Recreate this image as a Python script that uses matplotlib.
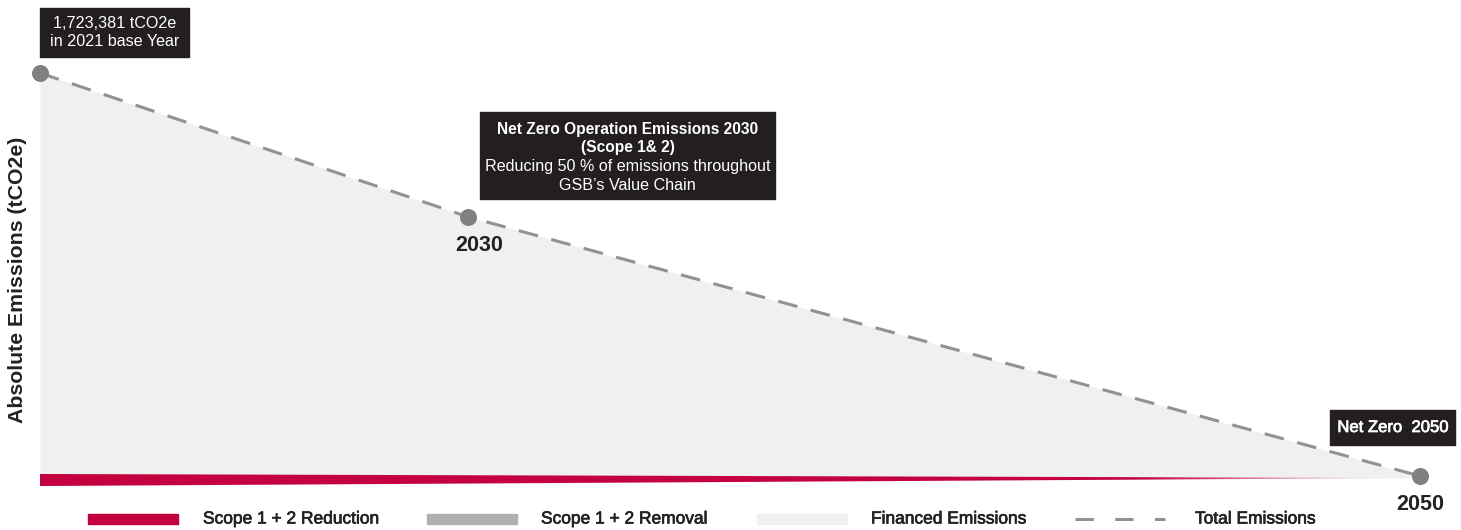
import numpy as np
import matplotlib
matplotlib.use("Agg")
import matplotlib.pyplot as plt
from matplotlib.patches import Rectangle
from matplotlib.lines import Line2D
import matplotlib.patheffects as pe

plt.rcParams['font.family'] = ['Liberation Sans', 'DejaVu Sans']

# Emissions pathway (tCO2e)
years = [2021, 2030, 2050]
total_emissions = [1_723_381, 1_108_000, 0]

# Scope 1 + 2 reduction band edges (tCO2e), tapering to the 2050 point
band_years = [2021, 2050]
reduction_top = [8_600, -8_600]
reduction_bottom = [-42_800, -8_600]

legend_labels = ["Scope 1 + 2 Reduction", "Scope 1 + 2 Removal",
                 "Financed Emissions", "Total Emissions"]

RED = "#C4003F"
REMOVAL = "#B0B0B0"
FINANCED = "#F0F0F0"
LINE = "#929292"
DOT = "#808080"
BOX = "#231F20"
INK = "#222222"

W, H = 1461, 530
fig = plt.figure(figsize=(W / 100, H / 100), dpi=100)
ax = fig.add_axes([0, 0, 1, 1])
ax.set_axis_off()

# Scales: 2021 -> 40 px, 2050 -> 1420 px; 0 t -> 476 px from top, base -> 73 px
px_per_year = (1420 - 40) / 29
xlim = (2021 - 40 / px_per_year, 2050 + (W - 1420) / px_per_year)
t_per_px = total_emissions[0] / (476 - 73)
ylim = (-(H - 476) * t_per_px, 476 * t_per_px)

# Financed emissions area sits on top of the reduction band
band_top_at_years = np.interp(years, band_years, reduction_top)
ax.fill_between(years, band_top_at_years, total_emissions,
                color=FINANCED, lw=0, zorder=1)

# Scope 1 + 2 reduction wedge with a fade towards 2050
poly = ax.fill_between(band_years, reduction_bottom, reduction_top,
                       color="none", lw=0, zorder=2)
xs = np.linspace(2021, 2050, 600)
alpha = np.clip((2049.6 - xs) / 5.5, 0, 1)
rgba = np.zeros((2, xs.size, 4))
rgba[..., :3] = matplotlib.colors.to_rgb(RED)
rgba[..., 3] = alpha
img = ax.imshow(rgba, extent=(2021, 2050, min(reduction_bottom), max(reduction_top)),
                aspect="auto", interpolation="bilinear", zorder=2)
img.set_clip_path(poly.get_paths()[0], transform=ax.transData)
ax.set_xlim(*xlim)
ax.set_ylim(*ylim)

# Total emissions path
ax.plot(years, total_emissions, color=LINE, lw=2.2, dashes=(6.5, 4.5), zorder=3)
ax.scatter(years, total_emissions, s=150, color=DOT, lw=0, zorder=4)

# Year labels
ax.annotate("2030", (years[1], total_emissions[1]), xytext=(11, -29),
            textcoords="offset pixels", ha="center", va="center",
            fontsize=15.5, fontweight="bold", color=INK)
ax.annotate("2050", (years[2], total_emissions[2]), xytext=(0, -29),
            textcoords="offset pixels", ha="center", va="center",
            fontsize=15.5, fontweight="bold", color=INK)

def box(x0, y0, x1, y1):
    fig.patches.append(Rectangle((x0 / W, 1 - y1 / H), (x1 - x0) / W, (y1 - y0) / H,
                                 transform=fig.transFigure, color=BOX, zorder=5))

def txt(x, y, s, **kw):
    fig.text(x / W, 1 - y / H, s, ha="center", va="center", color="white",
             zorder=6, **kw)

# Base-year callout
box(40, 8, 189, 57)
txt(114.5, 24, "1,723,381 tCO2e", fontsize=11.6)
txt(114.5, 41, "in 2021 base Year", fontsize=11.6)

# 2030 callout
box(480, 112, 775, 199)
txt(627.5, 129, "Net Zero Operation Emissions 2030", fontsize=11.2, fontweight="bold")
txt(627.5, 148, "(Scope 1& 2)", fontsize=11.2, fontweight="bold")
txt(627.5, 167, "Reducing 50 % of emissions throughout", fontsize=11.6)
txt(627.5, 185, "GSB\u2019s Value Chain", fontsize=11.6)

# 2050 callout
box(1330, 410, 1455, 445)
txt(1393, 427.5, "Net Zero  2050", fontsize=12,
    path_effects=[pe.withStroke(linewidth=0.5, foreground="white")])

# Axis title
fig.text(18 / W, 1 - 280 / H, "Absolute Emissions (tCO2e)", rotation=90,
         ha="center", va="center", fontsize=15.3, fontweight="bold", color=INK)

# Legend row
ly = 519
def swatch(x0, color):
    fig.patches.append(Rectangle((x0 / W, 1 - (ly + 5) / H), 90 / W, 10 / H,
                                 transform=fig.transFigure, color=color))
swatch(88, RED)
swatch(427, REMOVAL)
swatch(757, FINANCED)
fig.lines.append(Line2D([1075 / W, 1165 / W], [1 - ly / H, 1 - ly / H],
                        transform=fig.transFigure, color=LINE, lw=2.2, dashes=(6, 7)))
for x, lab in zip([203, 541, 871, 1195], legend_labels):
    fig.text(x / W, 1 - ly / H, lab, ha="left", va="center",
             fontsize=12.5, color=INK,
             path_effects=[pe.withStroke(linewidth=0.5, foreground=INK)])

fig.savefig("out.png", dpi=100)
